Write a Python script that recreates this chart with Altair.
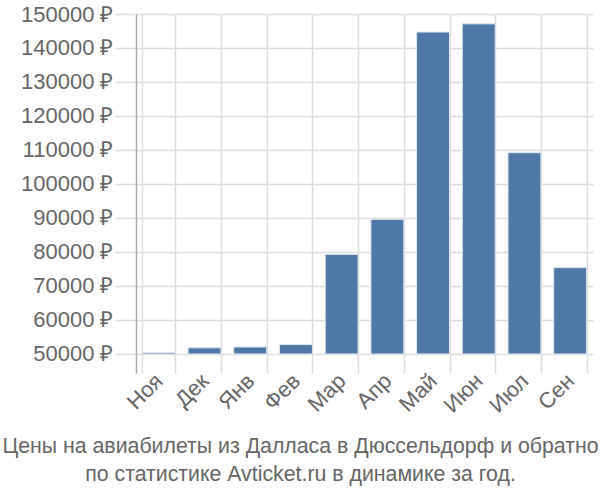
import altair as alt
import pandas as pd

months = ["Ноя", "Дек", "Янв", "Фев", "Мар", "Апр", "Май", "Июн", "Июл", "Сен"]
prices = [50400, 51800, 52050, 52760, 79300, 89600, 144700, 147100, 109200, 75400]
y_ticks = [50000, 60000, 70000, 80000, 90000, 100000, 110000, 120000, 130000, 140000, 150000]
base_value = 50000
title_lines = ["Цены на авиабилеты из Далласа в Дюссельдорф и обратно",
               "по статистике Avticket.ru в динамике за год."]

df = pd.DataFrame({"month": months, "price": prices, "base": [base_value] * len(months)})

font = "Liberation Sans"

chart = alt.Chart(df).mark_bar(color="#4e79a7", stroke="#dfe6ee", strokeWidth=1).encode(
    x=alt.X("month:N", sort=months,
            scale=alt.Scale(paddingInner=0.28, paddingOuter=0.14),
            axis=alt.Axis(title=None, labelAngle=-45, labelFontSize=22, labelColor="#666",
                          labelFont=font, tickBand="extent", grid=True, gridColor="#ddd",
                          gridWidth=1.5, domain=False, ticks=False, labelPadding=4,
                          labelAlign="right", labelBaseline="middle")),
    y=alt.Y("price:Q", scale=alt.Scale(domain=[44400, 150000], nice=False, zero=False),
            axis=alt.Axis(title=None, values=y_ticks, labelExpr="datum.value + ' ₽'",
                          labelFontSize=22, labelColor="#666", labelFont=font,
                          gridColor="#ddd", gridWidth=1.5, tickColor="#ddd", tickWidth=1.5,
                          tickSize=21, labelPadding=2, domainColor="#aaa", domainWidth=1.5)),
    y2="base:Q",
).properties(
    width=457, height=359,
    autosize=alt.AutoSizeParams(type="none"),
    padding={"left": 136, "top": 14, "right": 7, "bottom": 127},
    title=alt.TitleParams(text=title_lines, orient="bottom", anchor="middle", fontSize=21.3,
                          color="#666", font=font, fontWeight="normal",
                          offset=20, lineHeight=28, dx=-64),
).configure_view(stroke=None)

chart.save("out.html", embed_options={"renderer": "svg", "actions": False})
